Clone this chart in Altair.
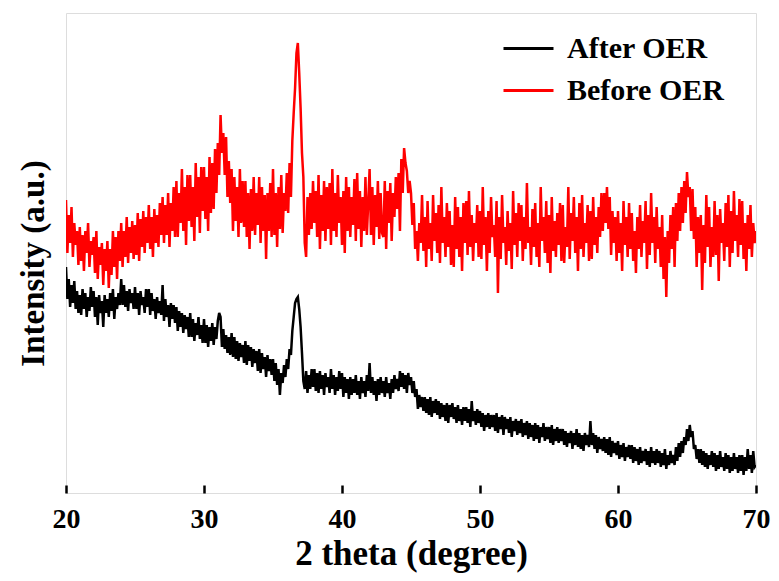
import altair as alt
import pandas as pd

# 2-theta sampling grid (degrees): 20.0 .. 70.0 in 0.1 steps
theta_start = 20.0
theta_step = 0.1

before_oer = [
    293, 240, 278, 250, 286, 236, 270, 248, 262, 228,
    266, 232, 258, 222, 262, 240, 270, 226, 252, 238,
    256, 220, 262, 214, 246, 228, 250, 208, 244, 222,
    252, 205, 244, 218, 262, 226, 256, 214, 262, 232,
    270, 226, 262, 236, 276, 230, 266, 240, 272, 234,
    268, 238, 280, 232, 274, 246, 282, 240, 276, 250,
    288, 244, 276, 236, 284, 250, 278, 246, 290, 258,
    296, 250, 288, 258, 300, 246, 290, 262, 306, 256,
    312, 256, 300, 270, 324, 262, 306, 248, 318, 272,
    318, 266, 306, 252, 330, 276, 316, 260, 326, 282,
    326, 274, 316, 262, 336, 280, 330, 284, 344, 300,
    350, 318, 378, 340, 360, 318, 356, 296, 332, 290,
    324, 262, 316, 272, 306, 256, 324, 270, 312, 266,
    312, 256, 300, 244, 304, 262, 316, 258, 300, 268,
    316, 250, 306, 262, 298, 234, 300, 262, 310, 256,
    324, 258, 300, 246, 306, 264, 318, 260, 300, 282,
    320, 280, 330, 296, 352, 380, 405, 440, 450, 420,
    385, 340, 316, 250, 236, 296, 258, 300, 264, 312,
    270, 302, 256, 318, 244, 298, 262, 312, 252, 306,
    264, 310, 248, 324, 262, 300, 256, 318, 270, 296,
    248, 302, 240, 316, 262, 306, 256, 296, 268, 314,
    252, 320, 264, 302, 246, 296, 262, 316, 258, 290,
    324, 258, 306, 248, 298, 266, 312, 254, 300, 260,
    256, 312, 244, 302, 270, 310, 252, 300, 276, 316,
    284, 320, 262, 334, 300, 345, 330, 322, 300, 312,
    300, 268, 290, 244, 262, 232, 270, 250, 298, 242,
    276, 226, 292, 244, 270, 232, 298, 252, 280, 240,
    288, 230, 306, 250, 276, 236, 290, 246, 282, 228,
    268, 226, 296, 244, 286, 236, 276, 222, 290, 250,
    292, 238, 302, 246, 278, 232, 270, 250, 288, 236,
    282, 234, 306, 248, 276, 222, 282, 240, 296, 256,
    268, 236, 292, 200, 276, 234, 298, 250, 266, 228,
    282, 242, 270, 224, 302, 248, 280, 236, 290, 252,
    288, 232, 276, 244, 310, 250, 266, 228, 284, 246,
    290, 236, 270, 226, 306, 252, 276, 240, 292, 230,
    278, 220, 296, 242, 272, 236, 280, 248, 290, 232,
    288, 230, 266, 246, 306, 234, 280, 252, 296, 240,
    276, 222, 290, 244, 298, 236, 270, 250, 288, 232,
    282, 234, 296, 248, 276, 240, 286, 256, 300, 262,
    300, 270, 306, 264, 296, 238, 282, 250, 276, 232,
    282, 240, 270, 222, 292, 248, 276, 236, 290, 244,
    280, 232, 262, 220, 276, 244, 288, 236, 272, 250,
    292, 224, 278, 238, 300, 250, 276, 230, 286, 244,
    266, 226, 278, 214, 256, 196, 262, 230, 278, 244,
    286, 226, 290, 252, 300, 262, 306, 270, 312, 280,
    321, 296, 306, 262, 304, 254, 286, 226, 276, 240,
    278, 203, 268, 230, 298, 246, 286, 226, 266, 236,
    292, 238, 278, 212, 284, 250, 270, 232, 290, 246,
    298, 226, 282, 240, 302, 252, 278, 236, 294, 248,
    292, 234, 270, 222, 278, 244, 288, 236, 270, 250,
    262,
]

after_oer = [
    226, 194, 214, 186, 208, 190, 212, 184, 202, 180,
    198, 178, 204, 184, 200, 176, 196, 182, 206, 186,
    202, 176, 196, 168, 198, 180, 192, 166, 198, 180,
    194, 176, 200, 182, 204, 174, 196, 184, 200, 188,
    214, 188, 208, 186, 202, 182, 204, 190, 200, 184,
    206, 184, 200, 178, 202, 188, 196, 180, 204, 186,
    204, 178, 200, 182, 194, 174, 196, 180, 192, 178,
    208, 172, 194, 176, 188, 166, 190, 174, 188, 170,
    186, 162, 182, 166, 180, 160, 178, 164, 176, 156,
    180, 156, 174, 152, 170, 158, 176, 154, 168, 150,
    174, 150, 168, 146, 166, 152, 170, 148, 166, 154,
    172, 180, 176, 146, 164, 144, 158, 140, 156, 138,
    160, 136, 156, 134, 152, 132, 150, 136, 148, 130,
    152, 128, 148, 132, 146, 126, 144, 130, 142, 122,
    144, 120, 140, 124, 136, 116, 138, 122, 134, 118,
    134, 112, 130, 108, 124, 98, 120, 110, 128, 116,
    134, 124, 144, 138, 162, 176, 190, 194, 196, 184,
    166, 140, 112, 104, 122, 100, 118, 104, 124, 106,
    124, 102, 120, 100, 122, 104, 118, 98, 120, 106,
    116, 100, 124, 104, 118, 98, 116, 102, 122, 104,
    120, 96, 116, 100, 114, 94, 116, 98, 114, 100,
    118, 98, 112, 94, 116, 100, 112, 96, 118, 102,
    130, 100, 116, 98, 112, 92, 114, 98, 116, 100,
    112, 96, 116, 100, 110, 94, 114, 100, 118, 104,
    114, 102, 122, 106, 120, 104, 118, 100, 120, 108,
    116, 100, 112, 96, 104, 84, 98, 86, 96, 82,
    96, 80, 94, 78, 96, 76, 92, 80, 94, 78,
    92, 74, 90, 76, 88, 72, 90, 70, 88, 76,
    90, 74, 86, 70, 88, 72, 84, 68, 86, 72,
    86, 70, 84, 66, 92, 72, 82, 68, 84, 70,
    82, 66, 80, 62, 78, 66, 80, 64, 78, 66,
    78, 62, 80, 60, 76, 64, 78, 58, 76, 64,
    74, 60, 76, 56, 72, 62, 74, 58, 72, 60,
    74, 56, 70, 58, 72, 54, 70, 56, 68, 52,
    70, 54, 68, 50, 66, 56, 70, 52, 66, 54,
    66, 50, 68, 48, 64, 52, 66, 50, 64, 52,
    64, 48, 62, 46, 60, 50, 62, 44, 60, 48,
    64, 46, 60, 44, 58, 42, 60, 48, 58, 46,
    72, 48, 60, 44, 58, 40, 56, 44, 54, 42,
    56, 40, 54, 38, 56, 36, 52, 40, 50, 38,
    52, 34, 48, 36, 50, 32, 46, 36, 48, 34,
    48, 30, 46, 32, 44, 28, 46, 30, 42, 32,
    44, 28, 42, 26, 46, 30, 42, 28, 44, 30,
    42, 26, 40, 28, 44, 24, 38, 28, 42, 30,
    38, 28, 46, 32, 50, 36, 52, 40, 56, 48,
    64, 52, 68, 56, 62, 44, 48, 34, 44, 30,
    44, 28, 42, 26, 40, 24, 38, 28, 42, 26,
    40, 22, 38, 24, 42, 26, 36, 22, 40, 24,
    38, 20, 36, 22, 40, 24, 36, 20, 38, 22,
    38, 18, 36, 22, 44, 24, 38, 20, 42, 26,
    28,
]

series_names = ["After OER", "Before OER"]
series_colors = ["#000000", "#ff0000"]
x_tick_values = [20, 30, 40, 50, 60, 70]

rows = []
for name, vals in zip(series_names, [after_oer, before_oer]):
    for i, v in enumerate(vals):
        rows.append({"two_theta": round(theta_start + theta_step * i, 2),
                     "intensity": v, "sample": name})
df = pd.DataFrame(rows)

FONT = "Liberation Serif"
TICK_LEN = 8

x_scale = alt.Scale(domain=[20, 70], nice=False, zero=False)
y_scale = alt.Scale(domain=[0, 480], nice=False, zero=False)

chart = alt.Chart(df).mark_line(strokeWidth=2.5, clip=True).encode(
    x=alt.X("two_theta:Q", scale=x_scale,
            # axis lifted into the plot by the tick length so the ticks point inward;
            # the bottom frame line comes from the view stroke
            axis=alt.Axis(values=x_tick_values, format="d", title="2 theta (degree)",
                          orient="bottom", offset=-TICK_LEN, domain=False,
                          ticks=True, tickSize=TICK_LEN, tickWidth=2.5,
                          tickColor="black", grid=False, labelFlush=False,
                          labelFont=FONT, labelFontSize=28, labelFontWeight="bold",
                          labelColor="black", labelPadding=12,
                          titleFont=FONT, titleFontSize=35, titleFontWeight="bold",
                          titleColor="black", titlePadding=3)),
    y=alt.Y("intensity:Q", scale=y_scale,
            axis=alt.Axis(labels=False, ticks=False, grid=False, domain=False,
                          title="Intensity (a.u.)", titleFont=FONT, titleFontSize=33,
                          titleFontWeight="bold", titleColor="black", titlePadding=16,
                          titleY=250)),
    color=alt.Color("sample:N",
                    scale=alt.Scale(domain=series_names, range=series_colors),
                    legend=alt.Legend(title=None, orient="none", legendX=436, legendY=9,
                                      symbolType="stroke", symbolSize=2500,
                                      symbolStrokeWidth=3, padding=0, rowPadding=-2,
                                      labelFont=FONT, labelFontSize=30,
                                      labelFontWeight="bold", labelColor="black",
                                      labelOffset=12, labelLimit=300)),
).properties(
    width=690, height=480,
    autosize=alt.AutoSizeParams(type="none"),
    padding={"left": 58, "top": 5, "right": 15, "bottom": 80},
).configure_view(stroke="black", strokeWidth=2.5).configure(background="white")

chart.save("out.html", embed_options={"renderer": "svg", "actions": False})
